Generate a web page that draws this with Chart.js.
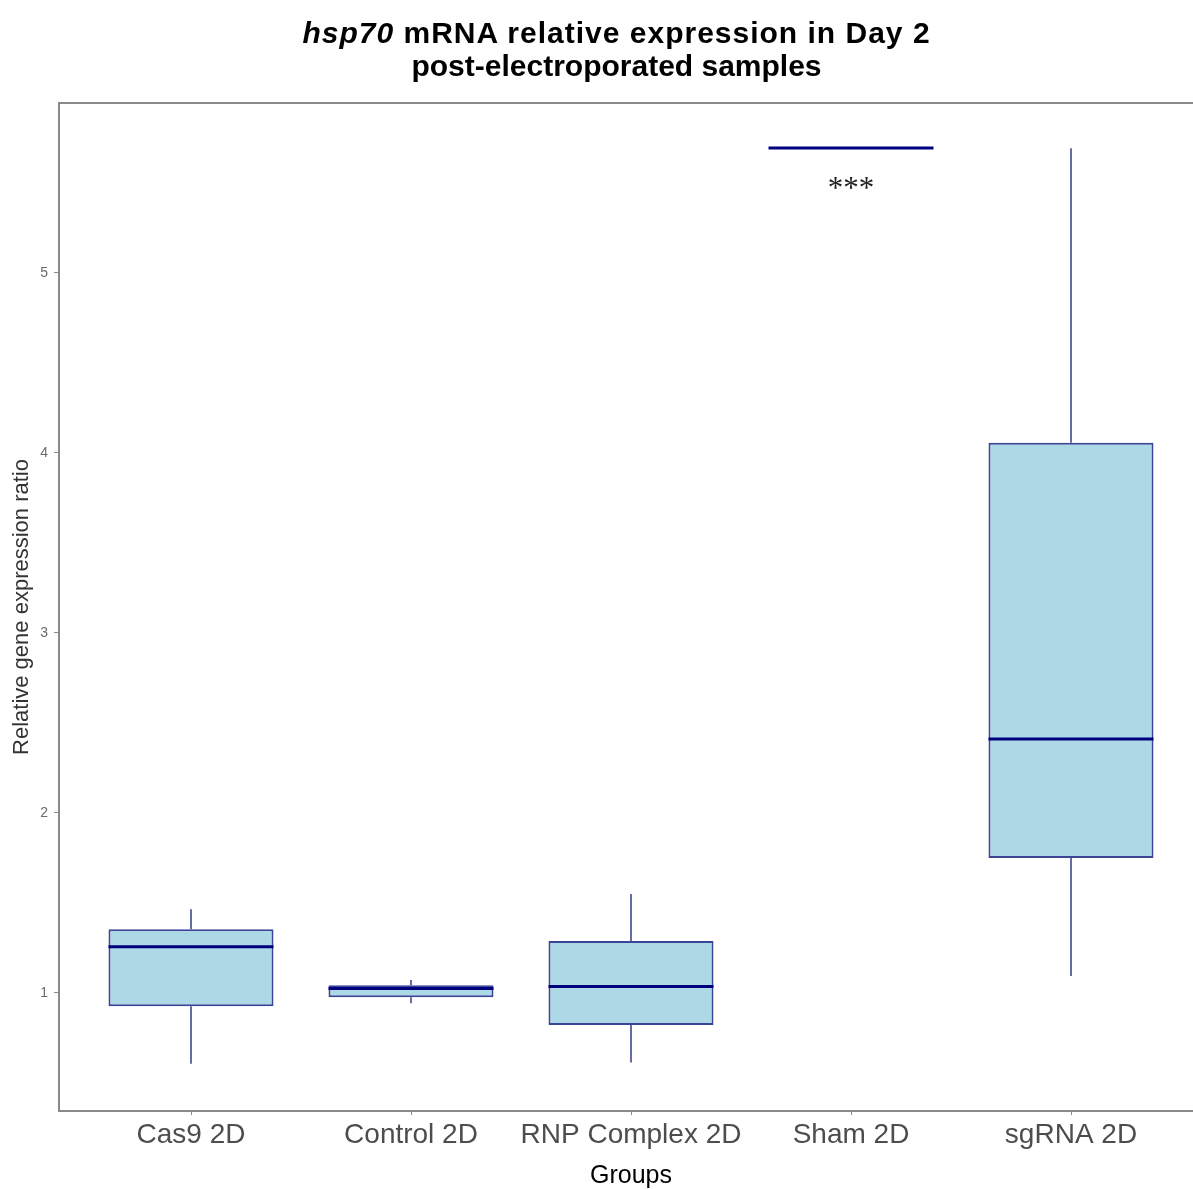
<!DOCTYPE html>
<html>
<head>
<meta charset="utf-8">
<script src="https://cdn.jsdelivr.net/npm/chart.js@4.4.1/dist/chart.umd.min.js"></script>
<style>
  html, body { margin: 0; padding: 0; background: #fff; overflow: hidden; }
  #wrap { position: relative; width: 1210px; height: 1189px; }
  #title {
    position: absolute; left: 0; top: 16px; width: 1233px;
    text-align: center; font: bold 30px "Liberation Sans", Arial, sans-serif;
    line-height: 33px; color: #000;
  }
  #title .l1 { letter-spacing: 1px; }
  canvas { position: absolute; left: 0; top: 0; }
</style>
</head>
<body>
<div id="wrap">
  <canvas id="chart" width="1210" height="1189"></canvas>
  <div id="title"><span class="l1"><i>hsp70</i> mRNA relative expression in Day 2</span><br><span class="l2">post-electroporated samples</span></div>
</div>
<script>
// box plot summaries
const groups = ["Cas9 2D", "Control 2D", "RNP Complex 2D", "Sham 2D", "sgRNA 2D"];
const whiskerLow = [0.606, 0.943, 0.613, 5.694, 1.094];
const quartile1 = [0.926, 0.976, 0.822, 5.694, 1.75];
const medians = [1.256, 1.024, 1.035, 5.694, 2.411];
const quartile3 = [1.354, 1.043, 1.289, 5.694, 4.056];
const whiskerHigh = [1.465, 1.072, 1.55, 5.694, 5.693];
const yTicks = [1, 2, 3, 4, 5];
const sigGroup = 3;
const sigY = 5.46;
const sigText = "***";

const boxData = groups.map((g, i) => ({ x: i, y: [quartile1[i], quartile3[i]] }));

const FILL = "#add8e6";
const EDGE = "#3a4598";
const WHISK = "#363d84";
const MED = "#00007f";
const FRAME = "#8a8a8a";
const SANS = "'Liberation Sans', Arial, sans-serif";

const boxPlugin = {
  id: "boxExtras",
  beforeDatasetsDraw(chart) {
    const { ctx, scales: { x, y } } = chart;
    ctx.save();
    ctx.strokeStyle = WHISK;
    ctx.lineWidth = 1.5;
    groups.forEach((g, i) => {
      const px = x.getPixelForValue(i);
      ctx.beginPath();
      ctx.moveTo(px, y.getPixelForValue(whiskerHigh[i]));
      ctx.lineTo(px, y.getPixelForValue(quartile3[i]));
      ctx.moveTo(px, y.getPixelForValue(quartile1[i]));
      ctx.lineTo(px, y.getPixelForValue(whiskerLow[i]));
      ctx.stroke();
    });
    ctx.restore();
  },
  afterDatasetsDraw(chart) {
    const { ctx, chartArea: a, scales: { x, y } } = chart;
    const meta = chart.getDatasetMeta(0);
    ctx.save();
    ctx.strokeStyle = MED;
    ctx.lineWidth = 3;
    meta.data.forEach((bar, i) => {
      const half = bar.width / 2;
      const py = y.getPixelForValue(medians[i]);
      ctx.beginPath();
      ctx.moveTo(bar.x - half, py);
      ctx.lineTo(bar.x + half, py);
      ctx.stroke();
    });
    // significance mark
    ctx.fillStyle = "#222";
    ctx.font = '31px "Liberation Serif", "Times New Roman", serif';
    ctx.textAlign = "center";
    ctx.textBaseline = "middle";
    ctx.fillText(sigText, x.getPixelForValue(sigGroup), y.getPixelForValue(sigY));
    // panel frame
    ctx.strokeStyle = FRAME;
    ctx.lineWidth = 2;
    ctx.strokeRect(a.left, a.top, a.right - a.left, a.bottom - a.top);
    ctx.restore();
  }
};

new Chart(document.getElementById("chart"), {
  type: "bar",
  data: {
    datasets: [{
      data: boxData,
      backgroundColor: FILL,
      borderColor: EDGE,
      borderWidth: 2,
      borderSkipped: false,
      barPercentage: 0.75,
      categoryPercentage: 1
    }]
  },
  options: {
    responsive: false,
    animation: false,
    events: [],
    layout: { padding: { top: 103, right: 7, left: 0, bottom: 0 } },
    plugins: { legend: { display: false }, tooltip: { enabled: false } },
    scales: {
      x: {
        type: "linear",
        offset: false,
        min: -0.6,
        max: 4.6,
        afterBuildTicks(scale) { scale.ticks = groups.map((g, i) => ({ value: i })); },
        afterFit(scale) { scale.height = 78; },
        ticks: {
          callback: (v) => groups[v] ?? "",
          font: { family: SANS, size: 28 },
          color: "#4d4d4d",
          padding: 3,
          maxRotation: 0,
          autoSkip: false
        },
        grid: { offset: false, drawOnChartArea: false, drawTicks: true, tickLength: 4, color: FRAME },
        border: { display: false },
        title: {
          display: true,
          text: "Groups",
          font: { family: SANS, size: 25, lineHeight: 1 },
          color: "#000",
          padding: { top: 0, bottom: 0 }
        }
      },
      y: {
        min: 0.344,
        max: 5.944,
        afterBuildTicks(scale) { scale.ticks = yTicks.map(v => ({ value: v })); },
        afterFit(scale) { scale.width = 59; },
        ticks: {
          font: { family: SANS, size: 14 },
          color: "#6b6b6b",
          padding: 6
        },
        grid: { drawOnChartArea: false, drawTicks: true, tickLength: 5, color: FRAME },
        border: { display: false },
        title: {
          display: true,
          text: "Relative gene expression ratio",
          font: { family: SANS, size: 22 },
          color: "#333",
          padding: { top: 9, bottom: 0 }
        }
      }
    }
  },
  plugins: [boxPlugin]
});
</script>
</body>
</html>
